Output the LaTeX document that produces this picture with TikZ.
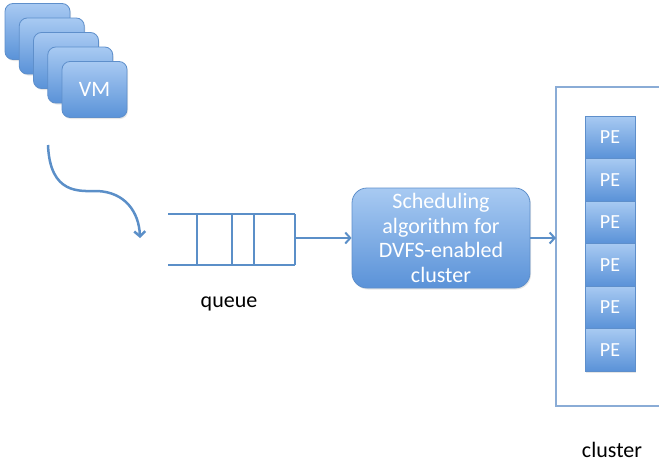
\documentclass[tikz,border=0pt]{standalone}
\usepackage{fontspec}
\setmainfont{Carlito}
\usetikzlibrary{arrows.meta,shadows}

\definecolor{boxtop}{HTML}{A8CAF2}
\definecolor{boxbot}{HTML}{5A92D8}
\definecolor{boxline}{HTML}{5E8FCB}
\definecolor{qline}{HTML}{5B8FC8}
\definecolor{clline}{HTML}{8AACD6}

\begin{document}
\begin{tikzpicture}[x=1pt,y=-1pt,
        bluebox/.style={draw=boxline,line width=0.8pt,top color=boxtop,bottom color=boxbot,text=white,
            drop shadow={opacity=0.2,shadow xshift=1pt,shadow yshift=-1.5pt}},
        vmbox/.style={bluebox,rounded corners=8pt,minimum width=65pt,minimum height=56pt},
        pebox/.style={bluebox,minimum width=50pt,minimum height=42.5pt},
        flow/.style={qline,line width=2pt,-{Straight Barb[length=5pt,width=11pt]}},
        lbl/.style={font=\fontsize{22}{24.5}\selectfont}]
        \useasboundingbox (0,0) rectangle (659,466);

        % stack of VMs
        \foreach \i in {0,...,3}
            \node[vmbox] (vm\i) at (37.5+14.25*\i,31.5+14.5*\i) {};
        \node[vmbox,lbl] (vm4) at (94.5,89.5) {VM};

        \coordinate (src) at (48,145);
        \coordinate (qin) at (140,238);
        \draw[flow,line width=2.5pt] (src) .. controls (50,195) and (80,191) .. (97,191)
            .. controls (125,192) and (139,212) .. (qin);

        % queue
        \draw[qline,line width=2.8pt] (168,214) -- (295,214) (168,265) -- (295,265)
            (197,214) -- (197,265) (232,214) -- (232,265) (254,214) -- (254,265) (295,214) -- (295,265);
        \coordinate (qout) at (295,238);
        \node[lbl] (qlabel) at (229,304) {queue};

        \node[bluebox,lbl,rounded corners=15pt,minimum width=178pt,minimum height=100pt,align=center]
            (sched) at (441,238) {Scheduling\\algorithm for\\DVFS-enabled\\cluster};
        \draw[flow] (qout) -- (sched.west);

        % cluster
        \draw[clline,line width=1.2pt] (660,87) -- (556,87) -- (556,406) -- (660,406);
        \coordinate (clin) at (556,238);
        \draw[flow] (sched.east) -- (clin);
        \foreach \i in {0,...,5}
            \node[pebox,lbl,font=\fontsize{20}{22}\selectfont] (pe\i) at (610,137.25+42.5*\i) {PE};
        \node[lbl] (cllabel) at (612,450) {cluster};
\end{tikzpicture}
\end{document}
